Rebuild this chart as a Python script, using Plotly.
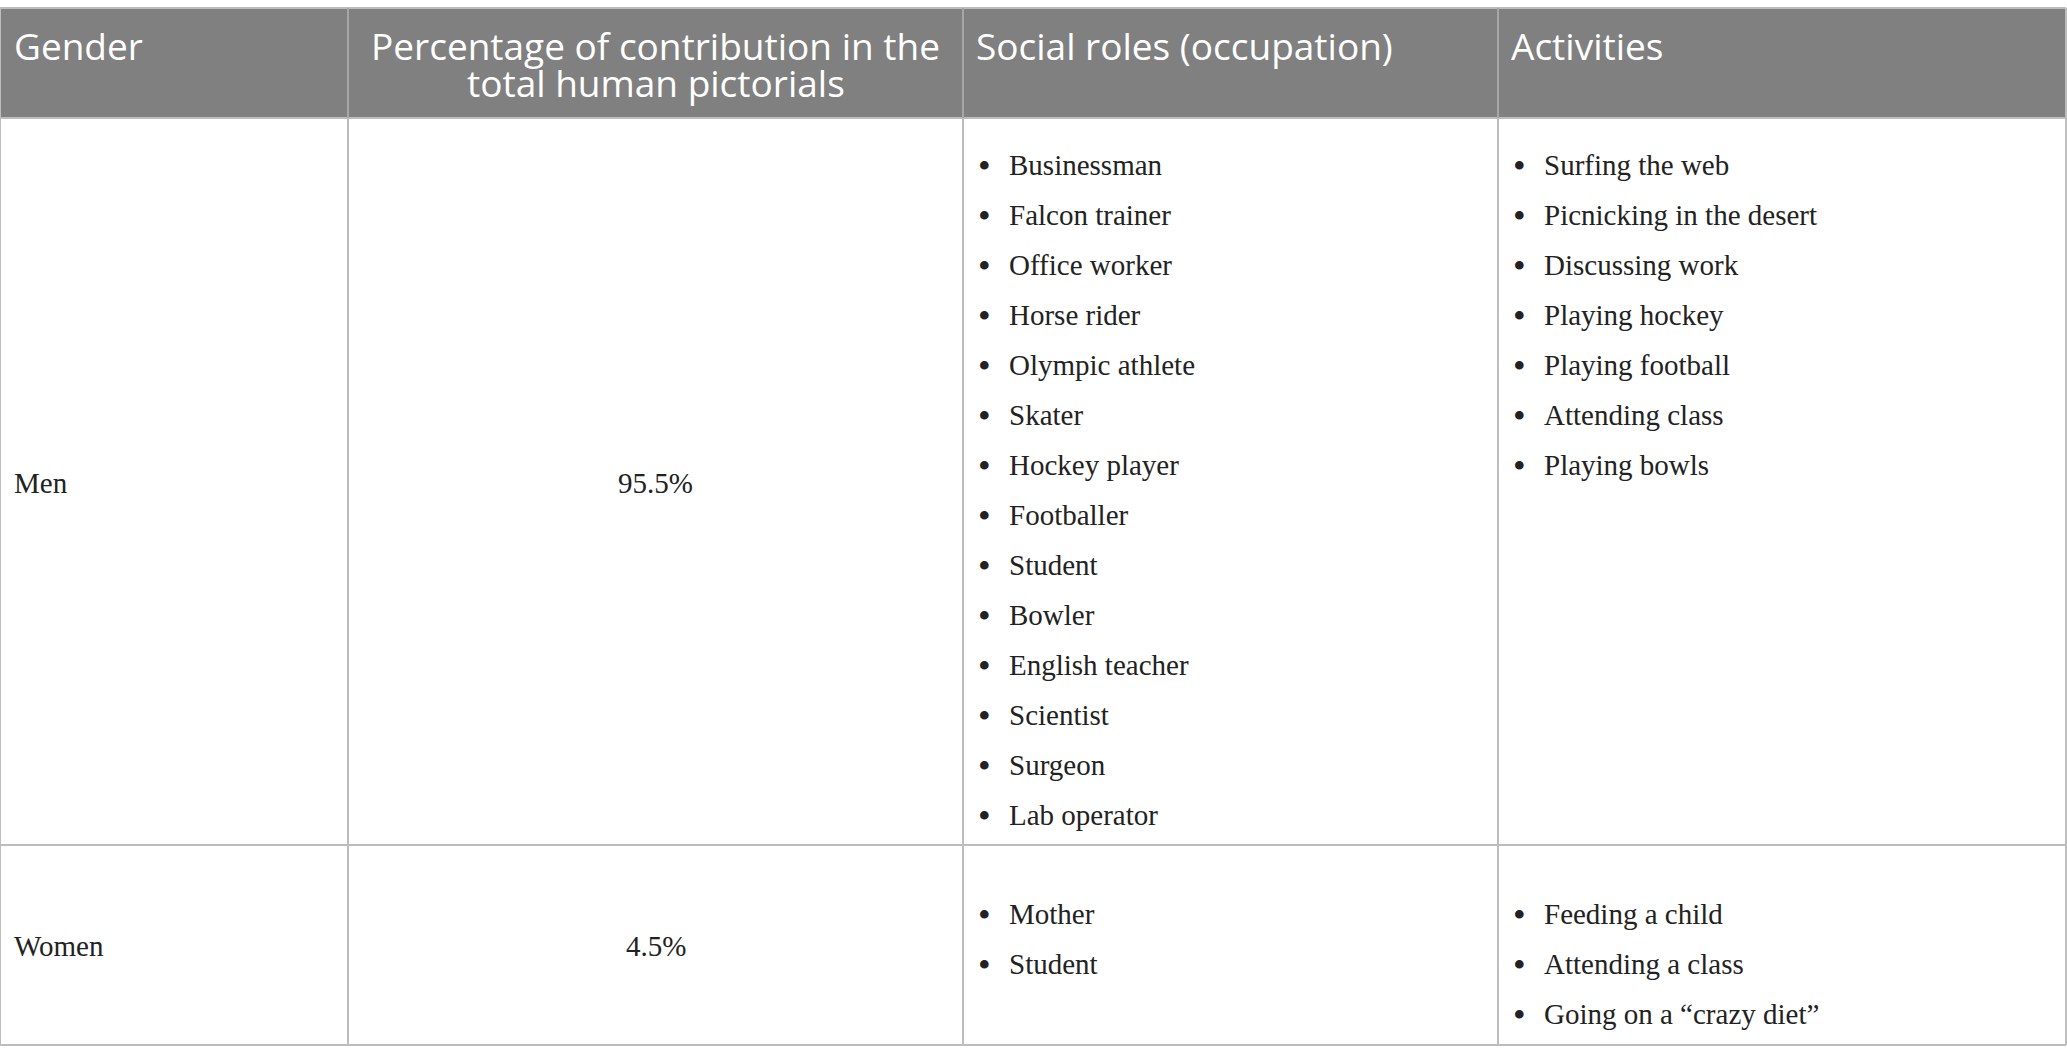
import plotly.graph_objects as go

# table content
header_lines = [
    ["Gender"],
    ["Percentage of contribution in the", "total human pictorials"],
    ["Social roles (occupation)"],
    ["Activities"],
]

genders = ["Men", "Women"]
shares = ["95.5%", "4.5%"]

social_roles = [
    [
        "Businessman", "Falcon trainer", "Office worker", "Horse rider",
        "Olympic athlete", "Skater", "Hockey player", "Footballer",
        "Student", "Bowler", "English teacher", "Scientist", "Surgeon",
        "Lab operator",
    ],
    ["Mother", "Student"],
]

activities = [
    [
        "Surfing the web", "Picnicking in the desert", "Discussing work",
        "Playing hockey", "Playing football", "Attending class",
        "Playing bowls",
    ],
    ["Feeding a child", "Attending a class", "Going on a \u201ccrazy diet\u201d"],
]

# layout of the grid (pixels)
W, H = 2067, 1064
col_edges = [0, 348, 963, 1498, 2066]
row_edges = [8, 118, 845, 1045]
list_top = [165, 914]
line_step = 50
header_line_y = [45, 82]

header_fill = "#7f807f"
grid_color = "#bdbdbd"
body_color = "#222222"
header_font = dict(family="Open Sans", size=37, color="white")
body_font = dict(family="Liberation Serif", size=29, color=body_color)
bullet_font = dict(family="Liberation Serif", size=36, color=body_color)

fig = go.Figure()

shapes = [
    dict(type="rect", x0=col_edges[0], x1=col_edges[-1],
         y0=row_edges[0], y1=row_edges[1],
         fillcolor=header_fill, line=dict(width=0), layer="below"),
]
for y in row_edges:
    shapes.append(dict(type="line", x0=col_edges[0], x1=col_edges[-1],
                       y0=y, y1=y, line=dict(color=grid_color, width=2)))
for i, x in enumerate(col_edges):
    c = "#a6a6a6" if 0 < i < len(col_edges) - 1 else grid_color
    shapes.append(dict(type="line", x0=x, x1=x, y0=row_edges[1],
                       y1=row_edges[-1], line=dict(color=grid_color, width=2)))
    shapes.append(dict(type="line", x0=x, x1=x, y0=row_edges[0],
                       y1=row_edges[1], line=dict(color=c, width=2)))

annotations = []

# header labels, one annotation per line to keep the tight leading
header_x = [col_edges[0] + 12, (col_edges[1] + col_edges[2]) / 2,
            col_edges[2] + 11, col_edges[3] + 11]
header_anchor = ["left", "center", "left", "left"]
for lines, x, xa in zip(header_lines, header_x, header_anchor):
    for k, text in enumerate(lines):
        annotations.append(dict(
            x=x, y=header_line_y[k], text=text, xanchor=xa,
            yanchor="middle", showarrow=False, font=header_font,
        ))

# body rows
for r in range(len(genders)):
    mid = (row_edges[r + 1] + row_edges[r + 2]) / 2 + 1
    annotations.append(dict(
        x=col_edges[0] + 12, y=mid, text=genders[r], xanchor="left",
        yanchor="middle", showarrow=False, font=body_font,
    ))
    annotations.append(dict(
        x=(col_edges[1] + col_edges[2]) / 2, y=mid, text=shares[r],
        xanchor="center", yanchor="middle", showarrow=False, font=body_font,
    ))
    for c, items in ((2, social_roles[r]), (3, activities[r])):
        for k, item in enumerate(items):
            y = list_top[r] + k * line_step
            annotations.append(dict(
                x=col_edges[c] + 13, y=y + 1, text="\u2022", xanchor="left",
                yanchor="middle", showarrow=False, font=bullet_font,
            ))
            annotations.append(dict(
                x=col_edges[c] + 44, y=y, text=item, xanchor="left",
                yanchor="middle", showarrow=False, font=body_font,
            ))

fig.update_layout(
    width=W,
    height=H,
    margin=dict(l=0, r=0, t=0, b=0),
    paper_bgcolor="white",
    plot_bgcolor="white",
    showlegend=False,
    shapes=shapes,
    annotations=annotations,
    xaxis=dict(range=[0, W], visible=False, fixedrange=True),
    yaxis=dict(range=[H, 0], visible=False, fixedrange=True),
)

fig.write_html(
    "out.html",
    config={"displayModeBar": False},
    post_script="document.body.style.margin='0';",
)
